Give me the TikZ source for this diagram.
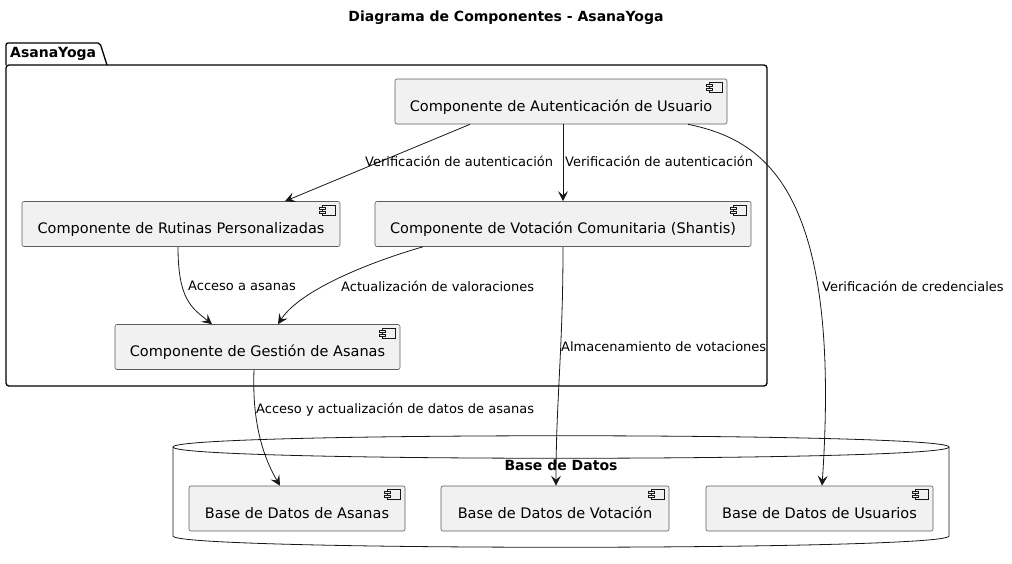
\documentclass[tikz,border=0pt]{standalone}
\usepackage{fontspec}
\setmainfont{DejaVu Sans}
\usepackage{xcolor}
\usetikzlibrary{arrows.meta}
\definecolor{compfill}{HTML}{F1F1F1}
\definecolor{compline}{HTML}{181818}
\tikzset{
    component/.style={
        rectangle,
        draw=compline!70,
        line width=0.6pt,
        rounded corners=2pt,
        minimum height=45pt,
        inner xsep=4pt,
        text height=22pt,
        text depth=3pt,
        fill=compfill,
        font=\fontsize{14.5}{16}\selectfont
    },
    wire/.style={
        draw=compline,
        line width=0.8pt,
        -{Stealth[length=10pt,width=10pt,inset=4pt]}
    },
    lbl/.style={
        font=\fontsize{13}{15}\selectfont,
        inner sep=0pt,
        anchor=west
    },
    heading/.style={
        font=\bfseries\fontsize{14}{16}\selectfont,
        inner sep=0pt
    },
    pkgline/.style={
        draw=black,
        line width=1.3pt
    }
}

\begin{document}
\begin{tikzpicture}[x=1pt,y=-1pt]
\useasboundingbox (0,0) rectangle (1012,563);

% Title
\node[heading] (title) at (506,18) {Diagrama de Componentes - AsanaYoga};

% Package AsanaYoga
\draw[pkgline, rounded corners=2pt] (6,65) -- (6,43) -- (100,43) -- (107,65);
\draw[pkgline, rounded corners=3pt] (6,65) rectangle (767,386);
\node[heading, anchor=west] (pkgname) at (10,54) {AsanaYoga};

% Database cylinder
\draw[compline, line width=0.8pt] (173,447) .. controls (173,432) and (949,432) .. (949,447)
    -- (949,536) .. controls (949,551) and (173,551) .. (173,536) -- cycle;
\draw[compline, line width=0.8pt] (173,447) .. controls (173,462) and (949,462) .. (949,447);
\node[heading] (dbname) at (561,465) {Base de Datos};

% Components
\node[component, minimum width=332pt] (auth) at (561,101.5) {Componente de Autenticación de Usuario};
\node[component, minimum width=318pt] (rut) at (181,224) {Componente de Rutinas Personalizadas};
\node[component, minimum width=376pt] (vot) at (563,224) {Componente de Votación Comunitaria (Shantis)};
\node[component, minimum width=285pt] (ges) at (257.5,347) {Componente de Gestión de Asanas};

% Databases
\node[component, minimum width=216pt] (dba) at (297,508.5) {Base de Datos de Asanas};
\node[component, minimum width=228pt] (dbv) at (555,508.5) {Base de Datos de Votación};
\node[component, minimum width=227pt] (dbu) at (819.5,508.5) {Base de Datos de Usuarios};

% Component icons
\foreach \n in {auth,rut,vot,ges,dba,dbv,dbu} {
    \draw[compline, line width=0.5pt] ([shift={(-18,4)}]\n.north east) rectangle ([shift={(-5,14)}]\n.north east);
    \draw[compline, line width=0.5pt, fill=compfill] ([shift={(-21,6)}]\n.north east) rectangle ([shift={(-15,8)}]\n.north east);
    \draw[compline, line width=0.5pt, fill=compfill] ([shift={(-21,10)}]\n.north east) rectangle ([shift={(-15,12)}]\n.north east);
}

% Connections
\draw[wire] ([xshift=-91pt]auth.south) -- ([xshift=104pt]rut.north);
\draw[wire] ([xshift=2pt]auth.south) -- (vot.north);
\draw[wire] ([xshift=127pt]auth.south) .. controls (765,140) and (842,190) .. ([xshift=2.5pt]dbu.north);
\draw[wire] ([xshift=-3pt]rut.south) .. controls (178,300) and (192,308) .. ([xshift=-45.5pt]ges.north);
\draw[wire] ([xshift=-140pt]vot.south) .. controls (370,262) and (300,290) .. ([xshift=20.5pt]ges.north);
\draw[wire] (vot.south) .. controls (563,350) and (556,400) .. ([xshift=1pt]dbv.north);
\draw[wire] ([xshift=-3.5pt]ges.south) .. controls (252,420) and (262,455) .. ([xshift=-17pt]dba.north);

% Connector labels
\node[lbl] (l1) at (365,161) {Verificación de autenticación};
\node[lbl] (l2) at (565,161) {Verificación de autenticación};
\node[lbl] (l3) at (822,286) {Verificación de credenciales};
\node[lbl] (l4) at (188,286) {Acceso a asanas};
\node[lbl] (l5) at (341,286) {Actualización de valoraciones};
\node[lbl] (l6) at (561,347) {Almacenamiento de votaciones};
\node[lbl] (l7) at (256,410) {Acceso y actualización de datos de asanas};

\end{tikzpicture}
\end{document}
